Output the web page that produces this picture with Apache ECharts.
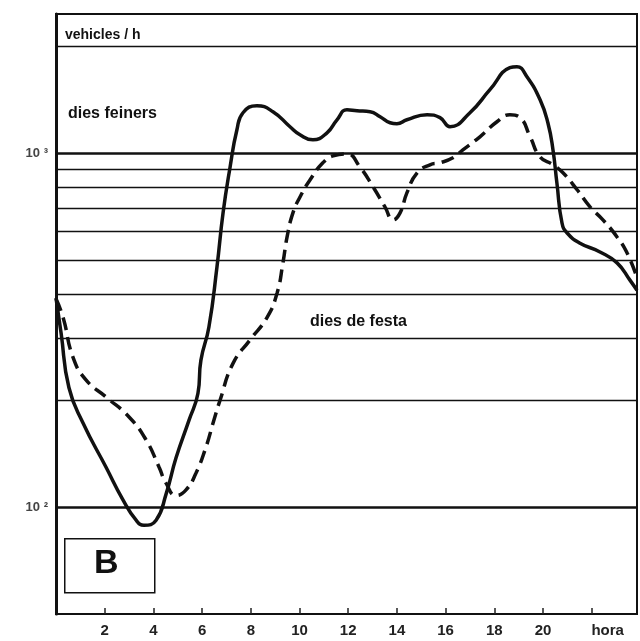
<!DOCTYPE html>
<html>
<head>
<meta charset="utf-8">
<script src="https://cdn.jsdelivr.net/npm/echarts@6/dist/echarts.min.js"></script>
<style>
  html, body { margin: 0; padding: 0; background: #fff; }
  #main { width: 640px; height: 641px; }
</style>
</head>
<body>
<div id="main"></div>
<script>
// dies feiners (solid)
var solidHours = [0, 0.21, 0.53, 1.11, 2.05, 2.75, 3.29, 3.61, 4.11, 4.52, 4.93, 5.46, 5.83, 5.95, 6.28, 6.61, 6.86, 7.15, 7.43, 7.68,
  8.25, 8.91, 9.61, 10.02, 10.55, 11.13, 11.54, 11.95, 12.36, 12.9, 13.31, 13.72, 14.0, 14.41, 15.24, 15.77, 16.18, 17.0, 17.82,
  18.64, 18.93, 19.34, 19.88, 20.2, 20.41, 20.57, 20.78, 20.99, 21.52, 22.34, 23.04, 23.57, 23.86];
var solidValues = [390, 310, 218, 173, 130, 105, 92, 89, 92, 109, 138, 176, 210, 260, 323, 477, 678, 914, 1164, 1300,
  1361, 1309, 1187, 1127, 1090, 1141, 1242, 1326, 1317, 1309, 1267, 1218, 1210, 1242, 1283, 1259, 1187, 1300, 1510,
  1742, 1754, 1643, 1415, 1218, 1021, 824, 635, 595, 557, 526, 490, 438, 410];

// dies de festa (dashed)
var dashedHours = [0, 0.29, 0.7, 1.23, 2.05, 3.0, 3.7, 4.23, 4.52, 4.93, 5.34, 5.75, 6.16, 6.45, 6.74, 7.27, 7.97, 8.67, 9.08,
  9.32, 9.49, 9.73, 10.02, 10.43, 10.96, 11.38, 11.95, 12.48, 13.02, 13.51, 13.84, 14.13, 14.41, 14.83, 15.36, 15.77, 16.3,
  16.71, 17.41, 18.11, 18.64, 19.06, 19.47, 19.88, 20.41, 20.82, 21.4, 21.93, 22.46, 23.04, 23.45, 23.86];
var dashedValues = [388, 344, 265, 229, 205, 180, 155, 130, 117, 108, 112, 125, 148, 173, 201, 255, 297, 344, 403,
  490, 580, 678, 752, 840, 939, 982, 995, 914, 803, 705, 648, 678, 772, 880, 927, 939, 970,
  1021, 1112, 1226, 1283, 1259, 1112, 976, 927, 880, 788, 705, 648, 580, 523, 445];

// horizontal reference lines of the log paper
var gridLevels = [100, 200, 300, 400, 500, 600, 700, 800, 900, 1000, 2000];
var majorLevels = [100, 1000];
var hourLabels = { 2: '2', 4: '4', 6: '6', 8: '8', 10: '10', 12: '12', 14: '14', 16: '16', 18: '18', 20: '20', 22: 'hora' };

function pairs(xs, ys) {
  return xs.map(function (x, i) { return [x, ys[i]]; });
}

var chart = echarts.init(document.getElementById('main'));

chart.setOption({
  animation: false,
  backgroundColor: '#fff',
  grid: {
    left: 56,
    right: 3,
    top: 14,
    bottom: 27,
    show: true,
    borderColor: '#111',
    borderWidth: 2
  },
  xAxis: {
    type: 'value',
    min: 0,
    max: 23.86,
    interval: 2,
    axisLine: { lineStyle: { color: '#111', width: 2 } },
    axisTick: { inside: true, length: 6, lineStyle: { color: '#222', width: 1.5 } },
    splitLine: { show: false },
    axisLabel: {
      margin: 9,
      showMinLabel: false,
      showMaxLabel: false,
      fontFamily: 'Liberation Sans, Arial, sans-serif',
      fontWeight: 'bold',
      fontSize: 15,
      color: '#222',
      formatter: function (v) {
        var t = hourLabels[v];
        if (!t) return '';
        return v === 22 ? '{h|' + t + '}' : t;
      },
      rich: {
        h: { fontFamily: 'Liberation Sans, Arial, sans-serif', fontWeight: 'bold', fontSize: 15, color: '#222', padding: [0, 0, 0, 32] }
      }
    }
  },
  yAxis: {
    type: 'log',
    logBase: 10,
    min: 50,
    max: 2470,
    axisLine: { show: true, lineStyle: { color: '#111', width: 3 } },
    axisTick: { show: false },
    splitLine: { show: false },
    axisLabel: {
      margin: 8,
      fontFamily: 'Liberation Sans, Arial, sans-serif',
      fontWeight: 'bold',
      fontSize: 13,
      color: '#444',
      formatter: function (v) {
        var e = Math.log10(v);
        if (Math.abs(e - Math.round(e)) > 1e-6) return '';
        if (Math.round(e) === 2) return '10 ²';
        if (Math.round(e) === 3) return '10 ³';
        return '';
      }
    }
  },
  series: [
    {
      name: 'dies feiners',
      type: 'line',
      data: pairs(solidHours, solidValues),
      showSymbol: false,
      smooth: 0.5,
      z: 3,
      lineStyle: { color: '#111', width: 3.5 },
      markLine: {
        silent: true,
        symbol: 'none',
        label: { show: false },
        animation: false,
        lineStyle: { color: '#222', width: 1.3, type: 'solid' },
        data: gridLevels.map(function (lv) {
          var major = majorLevels.indexOf(lv) >= 0;
          return { yAxis: lv, lineStyle: { color: '#111', width: major ? 2.5 : 1.3, type: 'solid' } };
        })
      }
    },
    {
      name: 'dies de festa',
      type: 'line',
      data: pairs(dashedHours, dashedValues),
      showSymbol: false,
      smooth: 0.5,
      z: 3,
      lineStyle: { color: '#111', width: 3.5, type: [13, 7] }
    }
  ],
  graphic: [
    { type: 'text', left: 65, top: 28, style: { text: 'vehicles / h', font: 'bold 14px "Liberation Sans", Arial, sans-serif', fill: '#111' } },
    { type: 'text', left: 68, top: 106, style: { text: 'dies feiners', font: 'bold 16px "Liberation Sans", Arial, sans-serif', fill: '#111' } },
    { type: 'text', left: 310, top: 314, style: { text: 'dies de festa', font: 'bold 16px "Liberation Sans", Arial, sans-serif', fill: '#111' } },
    { type: 'rect', left: 64, top: 538, shape: { width: 90, height: 54 }, style: { fill: '#fff', stroke: '#111', lineWidth: 1.5 } },
    { type: 'text', left: 94, top: 547, style: { text: 'B', font: 'bold 34px "Liberation Sans", Arial, sans-serif', fill: '#111' } }
  ]
});
</script>
</body>
</html>
